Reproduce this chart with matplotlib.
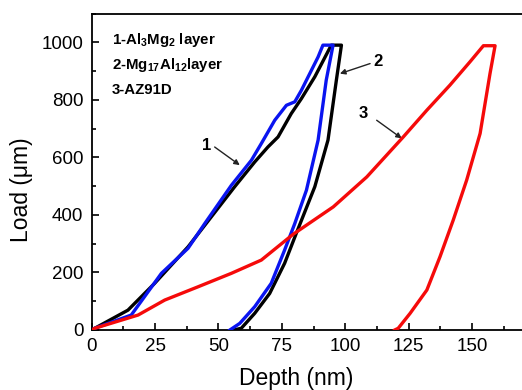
import matplotlib
matplotlib.use("Agg")
import matplotlib.pyplot as plt
from matplotlib.ticker import MultipleLocator

plt.rcParams['font.family'] = ['Liberation Sans', 'DejaVu Sans']
plt.rcParams['mathtext.default'] = 'regular'

# Curve 1: Al3Mg2 layer (blue) - loading then unloading
blue_x = [0, 1.2, 15.6, 27.5, 38, 44.6, 55.1, 63, 66.9, 72.2, 76.8, 80.1, 82.7, 89.3, 91.2, 95.2,
          92.5, 89.3, 84.7, 80.1, 76.1, 70.8, 64.3, 58.4, 54.5]
blue_y = [0, 6, 52, 197, 284, 370, 503, 590, 648, 729, 781, 793, 833, 949, 990, 990,
          868, 660, 486, 370, 278, 162, 81, 23, 0]

# Curve 2: Mg17Al12 layer (black)
black_x = [0, 1, 14.3, 24.8, 38, 56.4, 64.3, 69.5, 73.5, 78.7, 82.7, 88, 94.5, 98.5,
           96.5, 93.2, 88, 80.7, 76.1, 70.2, 64.3, 59, 56]
black_y = [0, 5, 69, 162, 289, 498, 584, 636, 671, 752, 804, 880, 990, 990,
           868, 660, 498, 336, 232, 127, 58, 6, 0]

# Curve 3: AZ91D (red)
red_x = [0, 1.2, 18.3, 28.8, 41.9, 55.1, 66.9, 79.5, 95.3, 108.5, 122.9, 132.2, 141.3, 149.2, 154.5, 159.1,
         157.1, 153.2, 147.9, 142.6, 137.4, 132.2, 125.6, 120.9, 119.5]
red_y = [0, 6, 52, 104, 150, 197, 243, 333, 428, 532, 671, 764, 851, 932, 988, 988,
         891, 683, 521, 382, 255, 139, 58, 6, 0]

legend_lines = [r'1-Al$_3$Mg$_2$ layer', r'2-Mg$_{17}$Al$_{12}$layer', '3-AZ91D']
x_ticks = [0, 25, 50, 75, 100, 125, 150]
y_ticks = [0, 200, 400, 600, 800, 1000]

W, H = 522, 390
fig = plt.figure(figsize=(W / 100, H / 100), dpi=100)
ax = fig.add_axes([91.7 / W, (H - 330) / H, 431 / W, 316.5 / H])

ax.plot(black_x, black_y, color='black', lw=2.4, solid_joinstyle='round', zorder=2)
ax.plot(blue_x, blue_y, color='#0a14f0', lw=2.4, solid_joinstyle='round', zorder=3)
ax.plot(red_x, red_y, color='#f50a0a', lw=2.4, solid_joinstyle='round', zorder=4)

ax.set_xlim(0, 170)
ax.set_ylim(0, 1100)
ax.set_xticks(x_ticks)
ax.set_yticks(y_ticks)
ax.xaxis.set_minor_locator(MultipleLocator(12.5))
ax.yaxis.set_minor_locator(MultipleLocator(100))
ax.tick_params(which='both', direction='in', top=False, right=False, width=1.2, labelsize=13.5, pad=6)
ax.tick_params(which='major', length=5)
ax.tick_params(which='minor', length=3)
ax.spines['right'].set_visible(False)
for s in ['left', 'bottom', 'top']:
    ax.spines[s].set_linewidth(1.3)

fig.text(296 / W, 1 - 385 / H, 'Depth (nm)', ha='center', va='baseline', fontsize=16.5)
fig.text(28 / W, 1 - 190 / H, 'Load (\u03bcm)', ha='center', va='baseline', rotation=90,
         rotation_mode='anchor', fontsize=16.5)

for i, t in enumerate(legend_lines):
    fig.text(112 / W, 1 - (44 + 25 * i) / H, t, fontsize=10.8, fontweight='bold', va='baseline')

arrow = dict(arrowstyle='-|>', lw=1.0, color='#222222', mutation_scale=8, shrinkA=0, shrinkB=0)
ax.annotate('', xy=(58.4, 573), xytext=(48.5, 636), arrowprops=arrow)
ax.text(45.2, 642, '1', ha='center', va='center', fontsize=12, fontweight='bold')
ax.annotate('', xy=(97.9, 891), xytext=(109.8, 926), arrowprops=arrow)
ax.text(113.1, 932, '2', ha='center', va='center', fontsize=12, fontweight='bold')
ax.annotate('', xy=(122.3, 666), xytext=(112.4, 729), arrowprops=arrow)
ax.text(107.1, 752, '3', ha='center', va='center', fontsize=12, fontweight='bold')

fig.savefig('out.png', dpi=100)
